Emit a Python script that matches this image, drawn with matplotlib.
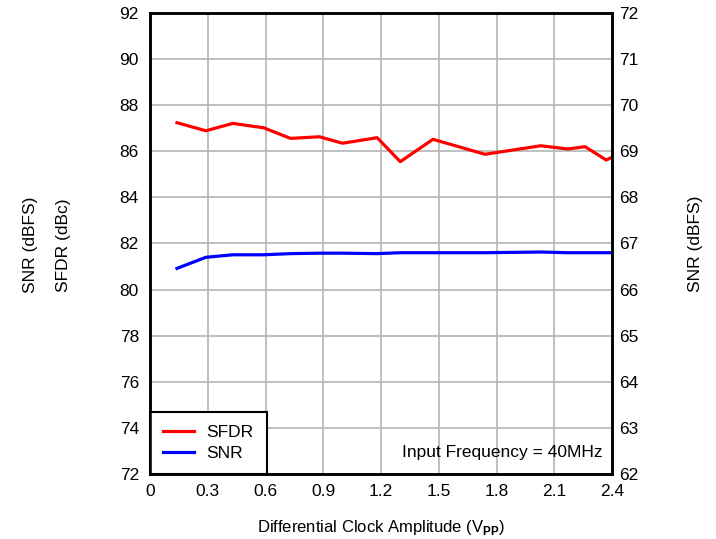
import matplotlib
matplotlib.use("Agg")
import matplotlib.pyplot as plt

plt.rcParams['font.family'] = ['Liberation Sans', 'DejaVu Sans']
plt.rcParams['mathtext.fontset'] = 'custom'
plt.rcParams['mathtext.rm'] = 'Liberation Sans'
plt.rcParams['mathtext.bf'] = 'Liberation Sans:bold'

# data
sfdr_x = [0.14, 0.29, 0.43, 0.59, 0.73, 0.88, 1.00, 1.18, 1.30, 1.47,
          1.74, 2.03, 2.17, 2.26, 2.37, 2.45]
sfdr = [87.24, 86.89, 87.21, 87.02, 86.56, 86.63, 86.35, 86.59, 85.55, 86.52,
        85.87, 86.24, 86.10, 86.20, 85.62, 85.95]
snr_x = [0.14, 0.29, 0.43, 0.59, 0.73, 0.88, 1.00, 1.18, 1.30, 1.47,
         1.74, 2.03, 2.17, 2.37, 2.45]
snr = [80.92, 81.40, 81.51, 81.51, 81.56, 81.58, 81.58, 81.56, 81.60, 81.60,
       81.60, 81.63, 81.60, 81.60, 81.60]

x_ticks = [0, 0.3, 0.6, 0.9, 1.2, 1.5, 1.8, 2.1, 2.4]
x_labels = ['0', '0.3', '0.6', '0.9', '1.2', '1.5', '1.8', '2.1', '2.4']
left_ticks = list(range(72, 93, 2))
right_ticks = list(range(62, 73))

fs = 12.5

fig = plt.figure(figsize=(7.16, 5.39), dpi=100)
ax = fig.add_axes([0.2095, 0.1206, 0.6453, 0.8553])

ax.plot(sfdr_x, sfdr, color='#ff0000', lw=2.3, label='SFDR', clip_on=True)
ax.plot(snr_x, snr, color='#0000ff', lw=2.3, label='SNR', clip_on=True)

ax.set_xlim(0, 2.4)
ax.set_ylim(72, 92)
ax.set_xticks(x_ticks)
ax.set_xticklabels(x_labels)
ax.set_yticks(left_ticks)
ax.grid(True, color='#b4b4b4', lw=1.2)
ax.tick_params(length=0, labelsize=fs, pad=8)
ax.tick_params(axis='x', pad=7)
for s in ax.spines.values():
    s.set_linewidth(1.8)

ax2 = ax.twinx()
ax2.set_ylim(62, 72)
ax2.set_yticks(right_ticks)
ax2.tick_params(length=0, labelsize=fs, pad=5)
for s in ax2.spines.values():
    s.set_linewidth(1.8)

ax.set_xlabel(r'Differential Clock Amplitude (V$_{\mathbf{PP}}$)', fontsize=12, labelpad=14)
ax2.set_ylabel('SNR (dBFS)', fontsize=fs, labelpad=36)
fig.text(0.042, 0.545, 'SNR (dBFS)', rotation=90, fontsize=fs, ha='center', va='center')
fig.text(0.088, 0.545, 'SFDR (dBc)', rotation=90, fontsize=fs, ha='center', va='center')

ax.text(0.98, 0.046, 'Input Frequency = 40MHz', transform=ax.transAxes,
        ha='right', va='center', fontsize=fs)

leg = ax.legend(loc='lower left', fontsize=fs, frameon=True, fancybox=False,
                handlelength=1.8, borderaxespad=0, borderpad=0.75,
                labelspacing=0.33, handletextpad=0.7)
leg.get_frame().set_edgecolor('black')
leg.get_frame().set_linewidth(1.5)
leg.get_frame().set_alpha(1)

fig.savefig('out.png', dpi=100)
